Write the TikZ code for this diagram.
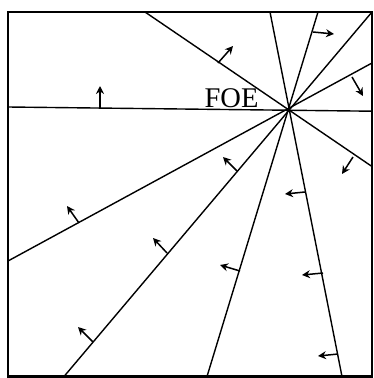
\documentclass[tikz,border=0pt]{standalone}
\usepackage{fontspec}
\setmainfont{Liberation Serif}
\usetikzlibrary{arrows.meta}
\tikzset{
  frm/.style={line width=2.2pt},
  ray/.style={line width=1.4pt},
  flow/.style={-{Stealth[length=8pt,width=8pt]}, line width=1.5pt},
  foelbl/.style={font=\fontsize{28.5}{28.5}\selectfont, inner sep=0pt, anchor=base},
  foedot/.style={circle, fill, inner sep=0pt, minimum size=4pt},
}

\begin{document}
\begin{tikzpicture}[x=1pt,y=-1pt]
\useasboundingbox (0,0) rectangle (374,378);
% ---- frame
\draw[frm] (8,12) rectangle (372,376.5);
% ---- focus of expansion
\node[foedot] (foe) at (288,110) {};
\node[foelbl] (foetxt) at (231.5,107.3) {FOE};
% ---- ray end points on the frame
\foreach \n/\x/\y in {h1/8/107, h2/372/111.2, a1/145/12, a2/372/166.5,
    b1/270/12, b2/342/376.5, c1/318/12, c2/207/376.5, d1/372/12, d2/64/376.5,
    e1/372/63, e2/8/261}
  \coordinate (\n) at (\x,\y);
\foreach \p/\q in {h1/h2, a1/a2, b1/b2, c1/c2, d1/d2, e1/e2}
  \draw[ray] (\p) -- (\q);
% ---- flow vectors
\foreach \x/\y/\u/\v in {100/107.5/100/86, 218/63/233/46, 313/32/334/34,
    352/77/363/96, 353/157/342/174, 237/171/223/157, 79/223/67/206,
    167/253/153/238, 93/342/78/327, 240/271/220/265, 305/192/285/194,
    323/273/302/275, 338/354/318/356}
  \draw[flow] (\x,\y) -- (\u,\v);
\end{tikzpicture}
\end{document}
